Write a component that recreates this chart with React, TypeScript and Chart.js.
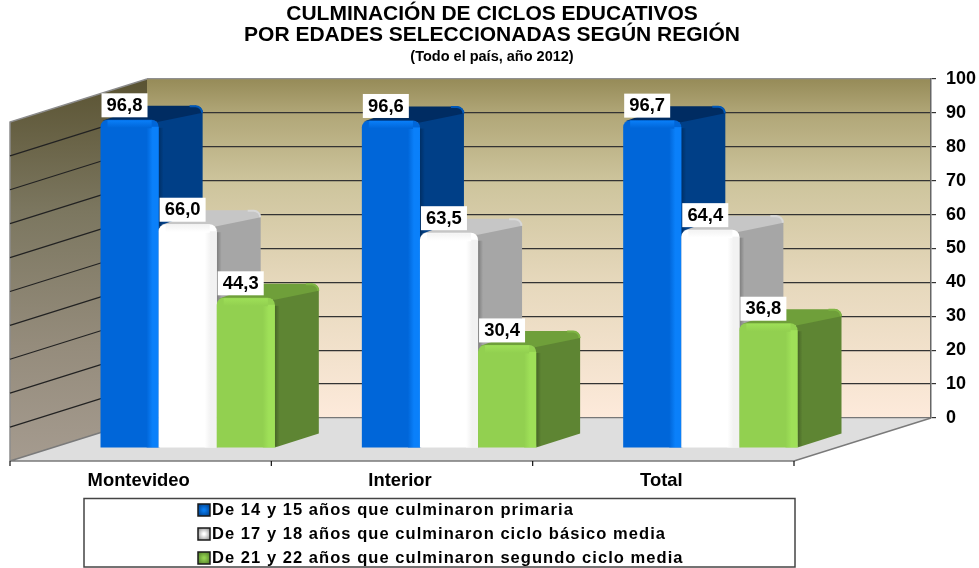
import React, { useEffect, useRef } from "react";
import { Chart, registerables } from "chart.js";

Chart.register(...registerables);

const FONT = '"Liberation Sans", Arial, sans-serif';
const categories = ["Montevideo", "Interior", "Total"];
const primaria = [96.8, 96.6, 96.7];
const cicloBasico = [66.0, 63.5, 64.4];
const segundoCiclo = [44.3, 30.4, 36.8];
const seriesNames = [
  "De 14 y 15 años que culminaron primaria",
  "De 17 y 18 años que culminaron ciclo básico media",
  "De 21 y 22 años que culminaron segundo ciclo media",
];
const titleLines = ["CULMINACIÓN DE CICLOS EDUCATIVOS", "POR EDADES SELECCIONADAS SEGÚN REGIÓN"];
const subtitleText = "(Todo el país, año 2012)";

const skins = [
  { front: "#0066d9", glow: "#0a80fa", side: "#003f87", top: "#002c62", rim: "#0058b8", key: ["#0a7cf0", "#003a80"] },
  { front: "#ffffff", glow: "#f2f2f2", side: "#a6a6a6", top: "#c6c6c6", rim: "#d8d8d8", key: ["#ffffff", "#8a8a8a"] },
  { front: "#92d050", glow: "#9fe058", side: "#5e8533", top: "#6f9f3a", rim: "#7fb544", key: ["#92d050", "#4f7a28"] },
];

const WALL_DX = 137;
const WALL_DY = 43;
const BAR_SHIFT_X = -90;
const BAR_SHIFT_Y = 30;
const SIDE_DX = 44;
const SIDE_DY = 14;

function drawDepth(ctx: any, el: any, skin: any) {
  const x1 = el.x + el.width / 2;
  const x0 = el.x - el.width / 2;
  const { y, base } = el;
  const r = 7;
  ctx.save();
  ctx.fillStyle = skin.side;
  ctx.beginPath();
  ctx.moveTo(x1 - 2, y + 1);
  ctx.lineTo(x1 + SIDE_DX - r, y - SIDE_DY);
  ctx.arcTo(x1 + SIDE_DX, y - SIDE_DY, x1 + SIDE_DX, y - SIDE_DY + r, r);
  ctx.lineTo(x1 + SIDE_DX, base - SIDE_DY);
  ctx.lineTo(x1, base);
  ctx.closePath();
  ctx.fill();
  ctx.fillStyle = skin.top;
  ctx.beginPath();
  ctx.moveTo(x0 + 2, y + 1);
  ctx.lineTo(x0 + SIDE_DX, y - SIDE_DY);
  ctx.lineTo(x1 + SIDE_DX - r, y - SIDE_DY);
  ctx.arcTo(x1 + SIDE_DX, y - SIDE_DY, x1 + SIDE_DX, y - SIDE_DY + r, r);
  ctx.lineTo(x1, y + 2);
  ctx.closePath();
  ctx.fill();
  const edge = ctx.createLinearGradient(x1, 0, x1 + 5, 0);
  edge.addColorStop(0, "rgba(0,0,0,0.25)");
  edge.addColorStop(1, "rgba(0,0,0,0)");
  ctx.fillStyle = edge;
  ctx.fillRect(x1, y + 8, 5, base - y - 9);
  ctx.strokeStyle = skin.rim;
  ctx.lineWidth = 2;
  ctx.beginPath();
  ctx.moveTo(x1 + SIDE_DX - r - 6, y - SIDE_DY + 0.5);
  ctx.lineTo(x1 + SIDE_DX - r, y - SIDE_DY + 0.5);
  ctx.arcTo(x1 + SIDE_DX - 0.5, y - SIDE_DY + 0.5, x1 + SIDE_DX - 0.5, y - SIDE_DY + r, r - 0.5);
  ctx.stroke();
  ctx.restore();
}

function drawShine(ctx: any, el: any, skin: any) {
  const x1 = el.x + el.width / 2;
  const x0 = el.x - el.width / 2;
  const { y, base } = el;
  ctx.save();
  const g = ctx.createLinearGradient(x1 - 12, 0, x1, 0);
  g.addColorStop(0, skin.front);
  g.addColorStop(0.5, skin.glow);
  g.addColorStop(1, skin.glow);
  ctx.fillStyle = g;
  ctx.fillRect(x1 - 12, y + 7, 12, base - y - 7);
  const h = ctx.createLinearGradient(0, y, 0, y + 8);
  h.addColorStop(0, skin.glow);
  h.addColorStop(1, skin.front);
  ctx.fillStyle = h;
  ctx.fillRect(x0 + 7, y + 0.5, x1 - x0 - 14, 8);
  ctx.restore();
}

const scene3d = {
  id: "scene3d",
  beforeDraw(chart: any) {
    const { ctx, chartArea: a } = chart;
    const fx0 = a.left - WALL_DX;
    const fx1 = a.right - WALL_DX;
    const fy0 = a.top + WALL_DY;
    const fy1 = a.bottom + WALL_DY;
    ctx.save();
    const back = ctx.createLinearGradient(0, a.top, 0, a.bottom);
    back.addColorStop(0, "#968b58");
    back.addColorStop(0.1, "#b0a677");
    back.addColorStop(0.3, "#cdc49c");
    back.addColorStop(0.6, "#e6d8bc");
    back.addColorStop(1, "#fdeadb");
    ctx.fillStyle = back;
    ctx.fillRect(a.left, a.top, a.right - a.left, a.bottom - a.top);
    const side = ctx.createLinearGradient(0, a.top, 0, fy1);
    side.addColorStop(0, "#5a5332");
    side.addColorStop(0.35, "#7c7760");
    side.addColorStop(0.7, "#958c7c");
    side.addColorStop(1, "#a59b8f");
    ctx.fillStyle = side;
    ctx.beginPath();
    ctx.moveTo(fx0, fy0);
    ctx.lineTo(a.left, a.top);
    ctx.lineTo(a.left, a.bottom);
    ctx.lineTo(fx0, fy1);
    ctx.closePath();
    ctx.fill();
    ctx.strokeStyle = "#8c8c8c";
    ctx.lineWidth = 1.5;
    ctx.beginPath();
    ctx.moveTo(fx0, fy1);
    ctx.lineTo(fx0, fy0);
    ctx.lineTo(a.left, a.top);
    ctx.stroke();
    ctx.fillStyle = "#dedede";
    ctx.beginPath();
    ctx.moveTo(fx0, fy1);
    ctx.lineTo(a.left, a.bottom);
    ctx.lineTo(a.right, a.bottom);
    ctx.lineTo(fx1, fy1);
    ctx.closePath();
    ctx.fill();
    ctx.strokeStyle = "#7a7a7a";
    ctx.lineWidth = 1.5;
    ctx.beginPath();
    ctx.moveTo(fx0, fy1);
    ctx.lineTo(a.left, a.bottom);
    ctx.moveTo(fx0, fy1);
    ctx.lineTo(fx1, fy1);
    ctx.lineTo(a.right, a.bottom);
    ctx.stroke();
    ctx.strokeStyle = "#111";
    ctx.lineWidth = 1.2;
    ctx.beginPath();
    const band = (a.right - a.left) / categories.length;
    for (let i = 0; i <= categories.length; i++) {
      const x = fx0 + band * i;
      ctx.moveTo(x, fy1);
      ctx.lineTo(x, fy1 + 5);
    }
    ctx.stroke();
    const yScale = chart.scales.y;
    ctx.strokeStyle = "#222";
    ctx.lineWidth = 1.2;
    ctx.beginPath();
    yScale.ticks.forEach((t: any) => {
      if (t.value === 0 || t.value === 100) return;
      const y = yScale.getPixelForValue(t.value);
      ctx.moveTo(fx0, y + WALL_DY);
      ctx.lineTo(a.left, y);
    });
    ctx.stroke();
    const xScale = chart.scales.x;
    ctx.fillStyle = "#000";
    ctx.font = `bold 18.4px ${FONT}`;
    ctx.textAlign = "center";
    ctx.textBaseline = "middle";
    categories.forEach((c, i) => {
      ctx.fillText(c, xScale.getPixelForValue(i) - WALL_DX - 2, fy1 + 20);
    });
    const lx0 = 84, lx1 = 795, ly0 = 498.5, ly1 = 567;
    ctx.fillStyle = "#fff";
    ctx.fillRect(lx0, ly0, lx1 - lx0, ly1 - ly0);
    ctx.strokeStyle = "#444";
    ctx.lineWidth = 1.5;
    ctx.strokeRect(lx0, ly0, lx1 - lx0, ly1 - ly0);
    seriesNames.forEach((name, i) => {
      const cy = 510 + i * 24;
      const k = skins[i].key;
      const g = ctx.createRadialGradient(204, cy, 1, 204, cy, 8);
      g.addColorStop(0, k[0]);
      g.addColorStop(1, k[1]);
      ctx.fillStyle = g;
      ctx.fillRect(198, cy - 6, 12, 12);
      ctx.strokeStyle = "#1a1a1a";
      ctx.lineWidth = 1.5;
      ctx.strokeRect(198, cy - 6, 12, 12);
      ctx.fillStyle = "#000";
      ctx.font = `bold 16.5px ${FONT}`;
      (ctx as any).letterSpacing = "1.05px";
      ctx.textAlign = "left";
      ctx.textBaseline = "middle";
      ctx.fillText(name, 212, cy);
      (ctx as any).letterSpacing = "0px";
    });
    ctx.restore();
  },
  // Datasets are painted first to last, each with its depth faces, so that
  // every bar stands in front of the one to its left.
  beforeDatasetsDraw(chart: any) {
    const { ctx } = chart;
    ctx.save();
    ctx.translate(BAR_SHIFT_X, BAR_SHIFT_Y);
    chart.data.datasets.forEach((_: any, di: number) => {
      const meta = chart.getDatasetMeta(di);
      meta.data.forEach((el: any) => drawDepth(ctx, el, skins[di]));
      meta.controller.draw();
      meta.data.forEach((el: any) => drawShine(ctx, el, skins[di]));
    });
  },
  beforeDatasetDraw() {
    return false;
  },
  afterDatasetsDraw(chart: any) {
    const { ctx } = chart;
    chart.data.datasets.forEach((ds: any, di: number) => {
      chart.getDatasetMeta(di).data.forEach((el: any, i: number) => {
        const x0 = el.x - el.width / 2 + 1;
        ctx.fillStyle = "#fff";
        ctx.fillRect(x0, el.y - 26.5, 46, 24);
        ctx.fillStyle = "#000";
        ctx.font = `bold 18.4px ${FONT}`;
        ctx.textAlign = "center";
        ctx.textBaseline = "middle";
        ctx.fillText(ds.data[i].toFixed(1).replace(".", ","), x0 + 23, el.y - 14);
      });
    });
    ctx.restore();
  },
};

export default function App() {
  const ref = useRef<HTMLCanvasElement | null>(null);
  useEffect(() => {
    const chart = new Chart(ref.current as HTMLCanvasElement, {
      type: "bar",
      data: {
        labels: categories,
        datasets: [primaria, cicloBasico, segundoCiclo].map((data, i) => ({
          label: seriesNames[i],
          data,
          clip: false,
          backgroundColor: skins[i].front,
          borderWidth: 0,
          borderRadius: { topLeft: 7, topRight: 7, bottomLeft: 0, bottomRight: 0 },
          borderSkipped: false,
          categoryPercentage: 0.667,
          barPercentage: 1,
        })) as any,
      },
      options: {
        responsive: false,
        animation: false,
        layout: { padding: { left: 5, top: 0, right: 0, bottom: 0 } },
        plugins: {
          legend: { display: false },
          tooltip: { enabled: false },
          title: {
            display: true,
            text: titleLines,
            color: "#000",
            font: { family: FONT, size: 21, weight: "bold", lineHeight: 1 },
            padding: { top: 4, bottom: 3 },
          },
          subtitle: {
            display: true,
            text: subtitleText,
            color: "#000",
            font: { family: FONT, size: 14.5, weight: "bold", lineHeight: 1.1 },
            padding: { top: 0, bottom: 14 },
          },
        },
        scales: {
          x: {
            position: "bottom",
            grid: { display: false, drawTicks: false },
            border: { display: false },
            ticks: { display: false },
            afterFit: (s: any) => { s.height = 150; },
          },
          y: {
            position: "right",
            min: 0,
            max: 100,
            grid: {
              color: (c: any) => (c.tick.value === 100 ? "#8f8f8f" : c.tick.value === 0 ? "#777" : "#333"),
              lineWidth: 1.2,
              tickLength: 5,
              tickColor: "#333",
            },
            border: { display: true, color: "#666", width: 1.5 },
            ticks: {
              stepSize: 10,
              padding: 10,
              color: "#000",
              font: { family: FONT, size: 18, weight: "bold" },
            },
            afterFit: (s: any) => { s.width = 48; },
          },
          spacer: {
            type: "linear",
            position: "left",
            grid: { display: false },
            border: { display: false },
            ticks: { display: false },
            afterFit: (s: any) => { s.width = 142; },
          },
        },
      } as any,
      plugins: [scene3d],
    });
    return () => chart.destroy();
  }, []);
  return (
    <div style={{ position: "absolute", left: 0, top: 0, width: 979, height: 568 }}>
      <canvas ref={ref} width={979} height={568} style={{ display: "block" }} />
    </div>
  );
}
